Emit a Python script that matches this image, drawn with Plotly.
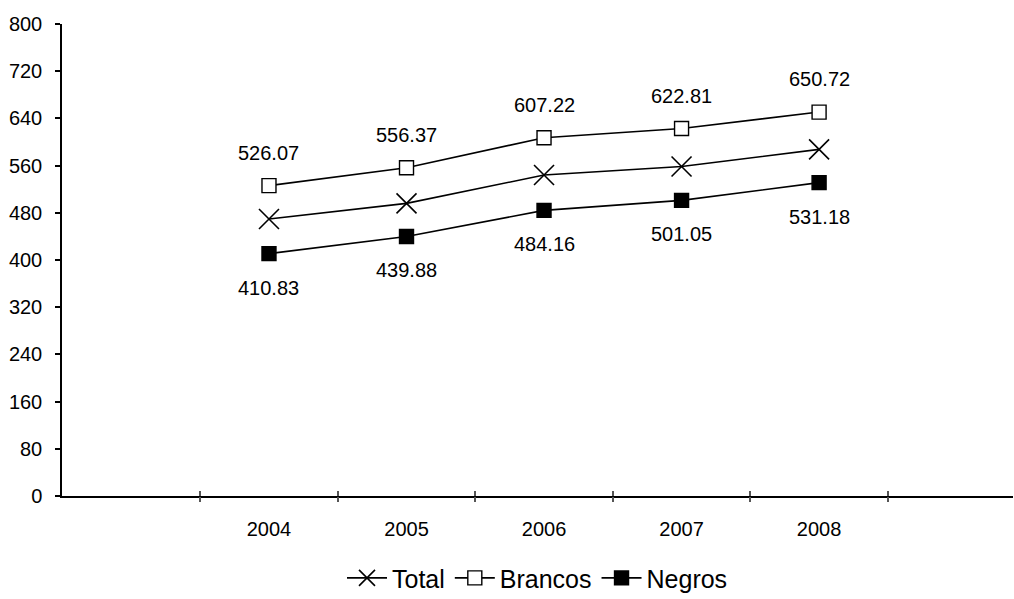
import plotly.graph_objects as go

# Renda média (R$) por grupo, 2004-2008
years = [2004, 2005, 2006, 2007, 2008]
total = [469.5, 496.0, 544.0, 558.5, 587.5]
brancos = [526.07, 556.37, 607.22, 622.81, 650.72]
negros = [410.83, 439.88, 484.16, 501.05, 531.18]
y_ticks = [0, 80, 160, 240, 320, 400, 480, 560, 640, 720, 800]

FONT = "Liberation Sans, Arial, sans-serif"
BLACK = "#000000"

# category boundaries sit halfway between the years
boundaries = [years[0] - 0.5] + [y + 0.5 for y in years]

fig = go.Figure()

fig.add_trace(go.Scatter(
    x=years, y=total, name="Total", mode="lines+markers",
    line=dict(color=BLACK, width=1.6),
    marker=dict(symbol="x-thin", size=20, color=BLACK,
                line=dict(color=BLACK, width=1.6)),
))
fig.add_trace(go.Scatter(
    x=years, y=brancos, name="Brancos", mode="lines+markers",
    line=dict(color=BLACK, width=1.6),
    marker=dict(symbol="square", size=14, color="white",
                line=dict(color=BLACK, width=1.4)),
))
fig.add_trace(go.Scatter(
    x=years, y=negros, name="Negros", mode="lines+markers",
    line=dict(color=BLACK, width=1.6),
    marker=dict(symbol="square", size=14, color=BLACK,
                line=dict(color=BLACK, width=1.4)),
))

# value labels: above the Brancos points, below the Negros points
for x, v in zip(years, brancos):
    fig.add_annotation(x=x, y=v, text=f"{v:.2f}", showarrow=False,
                       yshift=33, font=dict(family=FONT, size=20, color=BLACK))
for x, v in zip(years, negros):
    fig.add_annotation(x=x, y=v, text=f"{v:.2f}", showarrow=False,
                       yshift=-34, font=dict(family=FONT, size=20, color=BLACK))

x_range = [2002.495, 2009.41]
TICK_GREY = "#555555"

fig.update_layout(
    width=1014, height=599,
    margin=dict(l=62, r=1, t=24, b=103, autoexpand=False),
    paper_bgcolor="white", plot_bgcolor="white",
    font=dict(family=FONT, color=BLACK),
    showlegend=True,
    legend=dict(orientation="h", x=0.5, xanchor="center", y=-0.174,
                yanchor="middle", font=dict(family=FONT, size=25, color=BLACK),
                itemwidth=40, tracegroupgap=0, bgcolor="rgba(0,0,0,0)"),
    # category axis: line plus the upper half of the boundary ticks
    xaxis=dict(
        range=x_range, showgrid=False, zeroline=False,
        showline=True, linecolor=BLACK, linewidth=1.5,
        tickmode="array", tickvals=boundaries, ticks="inside",
        ticklen=5, tickwidth=1.5, tickcolor=TICK_GREY,
        showticklabels=False,
        fixedrange=True,
    ),
    # year labels, with the lower half of the boundary ticks as minor ticks
    xaxis2=dict(
        range=x_range, overlaying="x", side="bottom", anchor="y",
        showgrid=False, zeroline=False, showline=False,
        tickmode="array", tickvals=years, ticktext=[str(y) for y in years],
        ticks="", ticklabelstandoff=19,
        tickfont=dict(family=FONT, size=20, color=BLACK),
        minor=dict(tickmode="array", tickvals=boundaries, ticks="outside",
                   ticklen=5, tickwidth=1.5, tickcolor=TICK_GREY,
                   showgrid=False),
    ),
    yaxis=dict(
        range=[0, 800], showgrid=False, zeroline=False,
        showline=True, linecolor=BLACK, linewidth=1.5,
        tickmode="array", tickvals=y_ticks, ticks="outside",
        ticklen=5, tickwidth=1.5, tickcolor=BLACK,
        ticklabelstandoff=9,
        tickfont=dict(family=FONT, size=20, color=BLACK),
    ),
)

# empty trace bound to the label axis so it is drawn
fig.add_trace(go.Scatter(x=[years[0]], y=[None], xaxis="x2", showlegend=False,
                         hoverinfo="skip"))

fig.write_html("out.html")
